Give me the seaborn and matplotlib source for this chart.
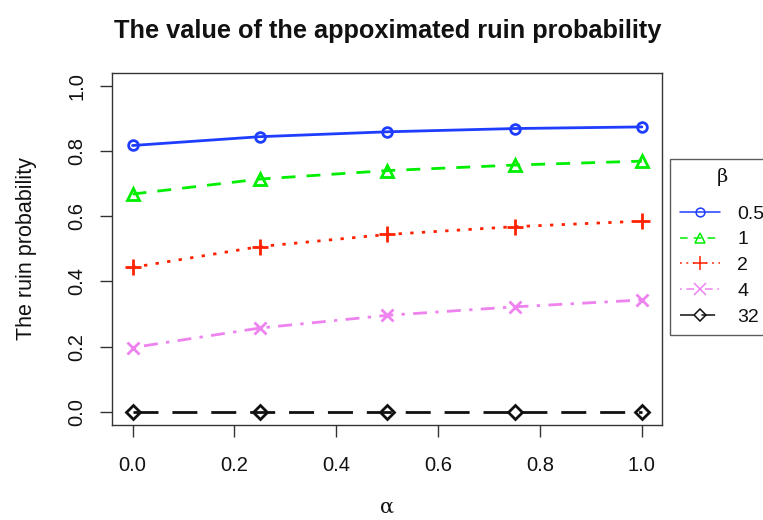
import numpy as np
import pandas as pd
import matplotlib
matplotlib.use("Agg")
import matplotlib.pyplot as plt
import seaborn as sns
from matplotlib.lines import Line2D

# Values
alpha = [0.0, 0.25, 0.5, 0.75, 1.0]
beta_labels = ["0.5", "1", "2", "4", "32"]
p_05 = [0.817, 0.844, 0.859, 0.869, 0.874]
p_1 = [0.668, 0.714, 0.740, 0.757, 0.769]
p_2 = [0.443, 0.507, 0.544, 0.568, 0.585]
p_4 = [0.197, 0.257, 0.296, 0.322, 0.343]
p_32 = [0.0, 0.0, 0.0, 0.0, 0.0]

colors = ["#1f3dff", "#00ee00", "#ff2200", "#ee82ee", "#111111"]
markers = ["o", "^", "+", "x", "D"]
dashes = [(None, None), (5, 4), (1.2, 3), (1.2, 3, 5, 3), (9, 5)]
msizes = [7, 8, 11, 9, 7]

df = pd.DataFrame({
    "alpha": alpha * 5,
    "prob": p_05 + p_1 + p_2 + p_4 + p_32,
    "beta": np.repeat(beta_labels, len(alpha)),
})

sns.set_style("white")
plt.rcParams["font.family"] = ["Liberation Sans", "DejaVu Sans"]
plt.rcParams["text.color"] = "#111111"
plt.rcParams["axes.labelcolor"] = "#111111"
plt.rcParams["xtick.color"] = "#111111"
plt.rcParams["ytick.color"] = "#111111"

fig = plt.figure(figsize=(7.63, 5.2), dpi=100)
ax = fig.add_axes([0.147, 0.183, 0.721, 0.677])

handles = []
for b, c, m, d, ms in zip(beta_labels, colors, markers, dashes, msizes):
    sub = df[df["beta"] == b]
    sns.lineplot(data=sub, x="alpha", y="prob", ax=ax, color=c, lw=2,
                 marker=m, ms=ms, mfc="none", mec=c, mew=2, legend=False)
    line = ax.lines[-1]
    if d[0] is not None:
        line.set_dashes(d)
    h = Line2D([], [], color=c, lw=1.1, marker=m, ms=ms * 0.9, mfc="none",
               mec=c, mew=1.1)
    if d[0] is not None:
        h.set_dashes(d)
    handles.append(h)

ax.set_xlim(-0.04, 1.04)
ax.set_ylim(-0.04, 1.04)
ax.set_xticks([0.0, 0.2, 0.4, 0.6, 0.8, 1.0])
ax.set_yticks([0.0, 0.2, 0.4, 0.6, 0.8, 1.0])
ax.tick_params(axis="both", direction="out", length=8.5, width=1, labelsize=14.5,
               bottom=True, left=True, color="#333333")
ax.tick_params(axis="x", pad=14)
ax.tick_params(axis="y", pad=10)
for lab in ax.get_yticklabels():
    lab.set_rotation(90)
    lab.set_va("center")
for s in ax.spines.values():
    s.set_color("#333333")
    s.set_linewidth(1)

ax.set_xlabel("α", fontsize=15, labelpad=16, family="DejaVu Serif")
ax.set_ylabel("The ruin probability", fontsize=15.5, labelpad=22)
ax.set_title("The value of the appoximated ruin probability", fontsize=18.3,
             fontweight="bold", pad=25)

leg = ax.legend(handles, beta_labels, title="β", loc="upper left",
                bbox_to_anchor=(1.0145, 0.756), borderaxespad=0,
                fontsize=14, title_fontsize=14,
                frameon=True, fancybox=False, edgecolor="#333333",
                handlelength=2.05, handletextpad=0.9, labelspacing=0.42,
                borderpad=0.5)
leg.get_title().set_family("DejaVu Serif")
leg.get_frame().set_linewidth(1)
# extra gap between the legend title and its first entry
leg._legend_box.sep = 0.42 * 14 + 7.5

fig.savefig("out.png", dpi=100)
